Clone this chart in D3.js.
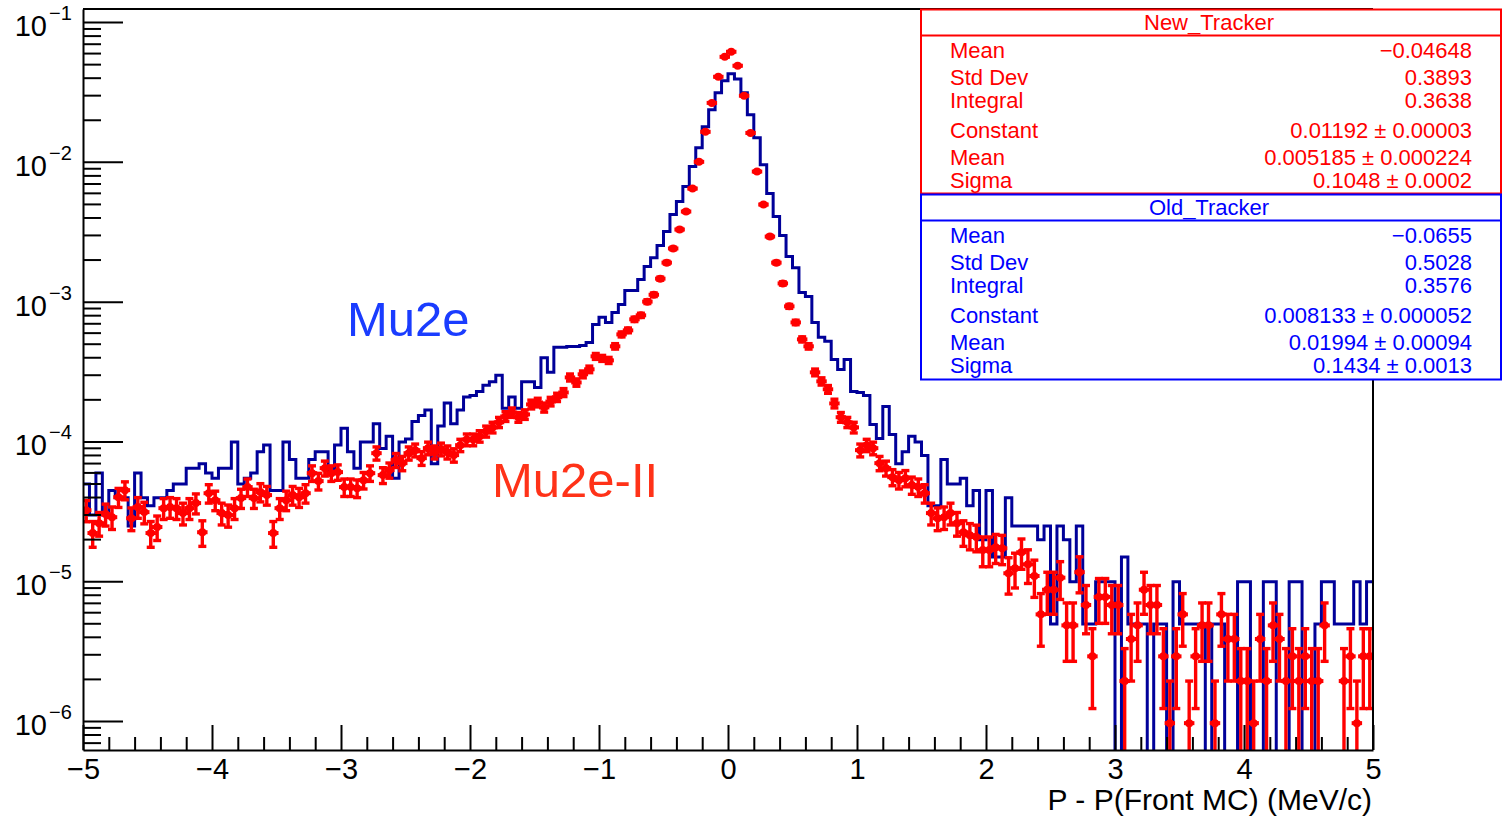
<!DOCTYPE html>
<html>
<head>
<meta charset="utf-8">
<script src="https://cdn.jsdelivr.net/npm/d3@7"></script>
<style>
  body { margin: 0; background: #fff; }
  text { font-family: "Liberation Sans", Arial, Helvetica, sans-serif; }
</style>
</head>
<body>
<svg id="chart" width="1505" height="817"></svg>
<script>
// histogram binning: 200 bins between -5 and 5 MeV/c
var nBins = 200, xLo = -5, xHi = 5;

// Old_Tracker (Mu2e), drawn as a step histogram
var oldTracker = [
  4.95e-5, 2.97e-5, 5.94e-5, 2.97e-5, 4.46e-5, 3.96e-5, 3.96e-5, 2.48e-5, 5.94e-5, 3.96e-5,
  3.47e-5, 3.96e-5, 3.96e-5, 4.46e-5, 4.95e-5, 4.95e-5, 6.44e-5, 6.44e-5, 6.93e-5, 5.94e-5,
  5.45e-5, 6.44e-5, 6.44e-5, 9.9e-5, 4.95e-5, 5.45e-5, 5.94e-5, 8.42e-5, 9.41e-5, 4.46e-5,
  4.46e-5, 9.9e-5, 7.43e-5, 5.45e-5, 5.45e-5, 7.43e-5, 8.42e-5, 8.42e-5, 5.94e-5, 9.41e-5,
  1.24e-4, 8.42e-5, 6.44e-5, 9.9e-5, 9.9e-5, 1.34e-4, 8.91e-5, 1.09e-4, 5.45e-5, 9.9e-5,
  1.04e-4, 1.39e-4, 1.53e-4, 1.68e-4, 6.93e-5, 1.29e-4, 1.88e-4, 1.34e-4, 1.68e-4, 2.08e-4,
  2.13e-4, 2.28e-4, 2.52e-4, 2.67e-4, 2.97e-4, 1.73e-4, 2.08e-4, 1.73e-4, 2.67e-4, 2.67e-4,
  2.43e-4, 3.96e-4, 3.12e-4, 4.71e-4, 4.71e-4, 4.78e-4, 4.78e-4, 4.86e-4, 5.11e-4, 6.87e-4,
  7.72e-4, 7.1e-4, 8.37e-4, 9.55e-4, 1.2e-3, 1.2e-3, 1.44e-3, 1.78e-3, 2.06e-3, 2.52e-3,
  3.17e-3, 4.2e-3, 5.2e-3, 6.66e-3, 9.25e-3, 1.26e-2, 1.78e-2, 2.36e-2, 3.12e-2, 3.8e-2,
  4.26e-2, 3.92e-2, 3.12e-2, 2.17e-2, 1.49e-2, 9.55e-3, 5.93e-3, 4.06e-3, 2.97e-3, 2.1e-3,
  1.75e-3, 1.16e-3, 1.09e-3, 7.1e-4, 5.55e-4, 5.2e-4, 3.86e-4, 3.27e-4, 3.86e-4, 2.28e-4,
  2.24e-4, 2.13e-4, 1.32e-4, 1.05e-4, 1.78e-4, 1.12e-4, 6.93e-5, 8.42e-5, 1.09e-4, 9.9e-5,
  7.92e-5, 3.47e-5, 3.47e-5, 7.43e-5, 4.95e-5, 4.95e-5, 5.45e-5, 3.47e-5, 4.46e-5, 1.98e-5,
  4.46e-5, 1.49e-5, 1.49e-5, 3.96e-5, 2.48e-5, 2.48e-5, 2.48e-5, 2.48e-5, 1.98e-5, 2.48e-5,
  4.95e-6, 2.48e-5, 1.98e-5, 9.9e-6, 2.48e-5, 4.95e-6, 4.95e-6, 9.9e-6, 9.9e-6, 9.9e-6,
  0, 1.49e-5, 4.95e-6, 4.95e-6, 4.95e-6, 0, 4.95e-6, 4.95e-6, 0, 9.9e-6,
  4.95e-6, 4.95e-6, 4.95e-6, 4.95e-6, 0, 4.95e-6, 4.95e-6, 0, 0, 9.9e-6,
  9.9e-6, 0, 0, 9.9e-6, 9.9e-6, 0, 0, 9.9e-6, 9.9e-6, 0,
  0, 4.95e-6, 9.9e-6, 9.9e-6, 4.95e-6, 4.95e-6, 4.95e-6, 9.9e-6, 4.95e-6, 9.9e-6
];

// New_Tracker (Mu2e-II), drawn as points with error bars
var newTracker = [
  3.22e-5, 2.21e-5, 2.6e-5, 3.02e-5, 2.87e-5, 3.99e-5, 4.48e-5, 2.82e-5, 3.39e-5, 3.12e-5,
  2.21e-5, 2.44e-5, 3.33e-5, 3.39e-5, 3.33e-5, 3.07e-5, 3.33e-5, 3.62e-5, 2.24e-5, 4.26e-5,
  3.8e-5, 3.07e-5, 2.97e-5, 3.33e-5, 3.93e-5, 4.71e-5, 3.93e-5, 4.34e-5, 4.13e-5, 2.21e-5,
  3.33e-5, 3.8e-5, 4.13e-5, 3.99e-5, 4.26e-5, 5.93e-5, 5.2e-5, 6.44e-5, 5.93e-5, 6.03e-5,
  4.71e-5, 4.71e-5, 4.63e-5, 5.28e-5, 5.93e-5, 8.24e-5, 5.74e-5, 6.23e-5, 7.35e-5, 6.99e-5,
  8.24e-5, 8.66e-5, 7.59e-5, 8.95e-5, 8.38e-5, 8.8e-5, 8.38e-5, 7.98e-5, 9.4e-5, 1.03e-4,
  1.03e-4, 1.09e-4, 1.18e-4, 1.26e-4, 1.37e-4, 1.51e-4, 1.61e-4, 1.49e-4, 1.56e-4, 1.84e-4,
  1.9e-4, 1.75e-4, 1.93e-4, 2.07e-4, 2.24e-4, 2.87e-4, 2.64e-4, 3.02e-4, 3.28e-4, 4.06e-4,
  3.93e-4, 3.8e-4, 4.79e-4, 5.83e-4, 6.23e-4, 7.47e-4, 7.98e-4, 1.0e-3, 1.12e-3, 1.46e-3,
  1.9e-3, 2.4e-3, 3.28e-3, 4.41e-3, 6.44e-3, 1.0e-2, 1.64e-2, 2.64e-2, 4.06e-2, 5.64e-2,
  6.13e-2, 4.87e-2, 2.97e-2, 1.61e-2, 8.52e-3, 4.95e-3, 2.92e-3, 1.9e-3, 1.35e-3, 9.25e-4,
  7.1e-4, 5.37e-4, 4.79e-4, 3.12e-4, 2.69e-4, 2.36e-4, 1.87e-4, 1.49e-4, 1.37e-4, 1.26e-4,
  8.66e-5, 9.4e-5, 8.95e-5, 6.99e-5, 6.44e-5, 5.55e-5, 5.28e-5, 5.46e-5, 4.87e-5, 4.71e-5,
  4.26e-5, 3.07e-5, 2.82e-5, 2.87e-5, 3.07e-5, 2.6e-5, 2.24e-5, 2.13e-5, 2.07e-5, 1.67e-5,
  1.67e-5, 1.75e-5, 1.72e-5, 1.14e-5, 1.24e-5, 1.61e-5, 1.32e-5, 1.09e-5, 5.79e-6, 8.69e-6,
  8.69e-6, 1.06e-5, 4.83e-6, 4.83e-6, 1.16e-5, 6.76e-6, 2.9e-6, 7.72e-6, 7.72e-6, 6.76e-6,
  6.76e-6, 1.93e-6, 3.86e-6, 4.83e-6, 8.69e-6, 6.76e-6, 6.76e-6, 2.9e-6, 9.65e-7, 2.9e-6,
  5.79e-6, 9.65e-7, 2.9e-6, 4.83e-6, 4.83e-6, 9.65e-7, 5.79e-6, 3.86e-6, 3.86e-6, 1.93e-6,
  1.93e-6, 9.65e-7, 3.86e-6, 1.93e-6, 4.83e-6, 3.86e-6, 1.93e-6, 2.9e-6, 1.93e-6, 2.9e-6,
  1.93e-6, 1.93e-6, 4.83e-6, 0, 0, 1.93e-6, 2.9e-6, 9.65e-7, 2.9e-6, 2.9e-6
];
// weight of one New_Tracker entry, error = sqrt(N) * w
var newWeight = 9.65e-7;

var xTicks = [-5, -4, -3, -2, -1, 0, 1, 2, 3, 4, 5];
var yDecades = [-6, -5, -4, -3, -2, -1];
var yRange = [6.2e-7, 0.124];

var statLabels = ["Mean", "Std Dev", "Integral", "Constant", "Mean", "Sigma"];
var newStats = ["\u22120.04648", "0.3893", "0.3638", "0.01192 \u00b1 0.00003", "0.005185 \u00b1 0.000224", "0.1048 \u00b1 0.0002"];
var oldStats = ["\u22120.0655", "0.5028", "0.3576", "0.008133 \u00b1 0.000052", "0.01994 \u00b1 0.00094", "0.1434 \u00b1 0.0013"];

// frame
var margin = {top: 9, right: 132, bottom: 67, left: 83},
    width = 1505 - margin.left - margin.right,
    height = 817 - margin.top - margin.bottom;

var svg = d3.select("#chart");
svg.append("rect").attr("width", 1505).attr("height", 817).attr("fill", "#fff");

var g = svg.append("g")
    .attr("transform", "translate(" + margin.left + "," + margin.top + ")");

var x = d3.scaleLinear().domain([xLo, xHi]).range([0, width]);
var y = d3.scaleLog().domain(yRange).range([height, 0]);

g.append("clipPath").attr("id", "clip")
  .append("rect").attr("width", width).attr("height", height);

var plot = g.append("g").attr("clip-path", "url(#clip)");

var edges = d3.range(nBins + 1).map(function(i) { return xLo + i * (xHi - xLo) / nBins; });

// Old tracker step histogram
var floorV = yRange[0];
var steps = [];
oldTracker.forEach(function(v, i) {
  var vv = Math.max(v, floorV * 0.9);
  steps.push([edges[i], vv], [edges[i + 1], vv]);
});
plot.append("path")
  .datum(steps)
  .attr("fill", "none")
  .attr("stroke", "#000099")
  .attr("stroke-width", 3)
  .attr("d", d3.line()
    .x(function(d) { return x(d[0]); })
    .y(function(d) { return y(d[1]); })
  );

// New tracker points with errors
var pts = newTracker.map(function(v, i) {
  return { lo: edges[i], hi: edges[i + 1], c: (edges[i] + edges[i + 1]) / 2, v: v, e: Math.sqrt(v * newWeight) };
}).filter(function(d) { return d.v > 0; });

var red = "#ff0000";
var pg = plot.append("g").attr("stroke", red).attr("stroke-width", 3.4);
var capW = 4;
pts.forEach(function(d) {
  var cx = x(d.c), cy = y(d.v);
  var yTop = y(d.v + d.e);
  var low = d.v - d.e;
  var yBot = low > floorV ? y(low) : height + 5;
  pg.append("line").attr("x1", x(d.lo)).attr("x2", x(d.hi)).attr("y1", cy).attr("y2", cy)
    .attr("stroke-linecap", "square").attr("stroke-width", 4);
  pg.append("line").attr("x1", cx).attr("x2", cx).attr("y1", yTop).attr("y2", yBot);
  pg.append("line").attr("x1", cx - capW).attr("x2", cx + capW).attr("y1", yTop).attr("y2", yTop);
  if (low > floorV) {
    pg.append("line").attr("x1", cx - capW).attr("x2", cx + capW).attr("y1", yBot).attr("y2", yBot);
  }
  pg.append("circle").attr("cx", cx).attr("cy", cy).attr("r", 4).attr("fill", red).attr("stroke", "none");
});

// axes
var xMinor = d3.range(-50, 51, 2).map(function(k) { return k / 10; })
  .filter(function(v) { return Math.abs(v - Math.round(v)) > 1e-6; });

var xAxis = g.append("g").attr("transform", "translate(0," + height + ")")
  .call(d3.axisBottom(x).tickValues(xTicks).tickSizeInner(-25).tickSizeOuter(0)
    .tickFormat(function(d) { return d < 0 ? "\u2212" + (-d) : d; }));
xAxis.selectAll("text").attr("y", 29).attr("dy", null)
  .attr("font-size", 29).attr("fill", "#000");
g.append("g").attr("transform", "translate(0," + height + ")")
  .call(d3.axisBottom(x).tickValues(xMinor).tickSizeInner(-13).tickSizeOuter(0).tickFormat(""))
  .select(".domain").remove();

var yMinor = [];
d3.range(-7, 0).forEach(function(p) {
  for (var k = 2; k <= 9; k++) {
    var v = k * Math.pow(10, p);
    if (v > yRange[0] && v < yRange[1]) yMinor.push(v);
  }
});
var yMajor = yDecades.map(function(p) { return Math.pow(10, p); });

g.append("g")
  .call(d3.axisLeft(y).tickValues(yMajor).tickSizeInner(-40).tickSizeOuter(0).tickFormat(""));
g.append("g")
  .call(d3.axisLeft(y).tickValues(yMinor).tickSizeInner(-18).tickSizeOuter(0).tickFormat(""))
  .select(".domain").remove();

g.selectAll(".domain").attr("stroke-width", 2);
g.selectAll(".tick line").attr("stroke-width", 2);

// y tick labels: 10^n
var yl = g.append("g");
yDecades.forEach(function(p) {
  yl.append("text")
    .attr("x", -36).attr("y", y(Math.pow(10, p)) + 14)
    .attr("text-anchor", "end").attr("font-size", 29).attr("fill", "#000")
    .text("10");
  yl.append("text")
    .attr("x", -34).attr("y", y(Math.pow(10, p)) - 2)
    .attr("font-size", 20).attr("fill", "#000")
    .text("\u2212" + (-p));
});

// frame top / right
g.append("line").attr("x1", 0).attr("x2", width).attr("y1", 0).attr("y2", 0)
  .attr("stroke", "#000").attr("stroke-width", 2);
g.append("line").attr("x1", width).attr("x2", width).attr("y1", 0).attr("y2", height)
  .attr("stroke", "#000").attr("stroke-width", 2);

// x title
svg.append("text")
  .attr("x", 1372).attr("y", 810)
  .attr("text-anchor", "end").attr("font-size", 30).attr("fill", "#000")
  .text("P - P(Front MC) (MeV/c)");

// curve labels
svg.append("text").attr("x", 347).attr("y", 336)
  .attr("font-size", 49).attr("fill", "#1a3cff").text("Mu2e");
svg.append("text").attr("x", 492).attr("y", 497)
  .attr("font-size", 49).attr("fill", "#ff3218").text("Mu2e-II");

// stats boxes
var rowOffsets = [48.5, 75.5, 98, 128, 155.5, 178];
function statBox(top, h, color, title, values) {
  var b = svg.append("g");
  b.append("rect").attr("x", 921).attr("y", top).attr("width", 580).attr("height", h)
    .attr("fill", "#fff").attr("stroke", color).attr("stroke-width", 2);
  b.append("line").attr("x1", 921).attr("x2", 1501).attr("y1", top + 26).attr("y2", top + 26)
    .attr("stroke", color).attr("stroke-width", 2);
  b.append("text").attr("x", 1209).attr("y", top + 20).attr("text-anchor", "middle")
    .attr("font-size", 22).attr("fill", color).text(title);
  statLabels.forEach(function(l, i) {
    b.append("text").attr("x", 950).attr("y", top + rowOffsets[i])
      .attr("font-size", 22).attr("fill", color).text(l);
    b.append("text").attr("x", 1472).attr("y", top + rowOffsets[i]).attr("text-anchor", "end")
      .attr("font-size", 22).attr("fill", color).text(values[i]);
  });
}
statBox(9.5, 184, red, "New_Tracker", newStats);
statBox(194.5, 185, "#0000ff", "Old_Tracker", oldStats);
</script>
</body>
</html>
